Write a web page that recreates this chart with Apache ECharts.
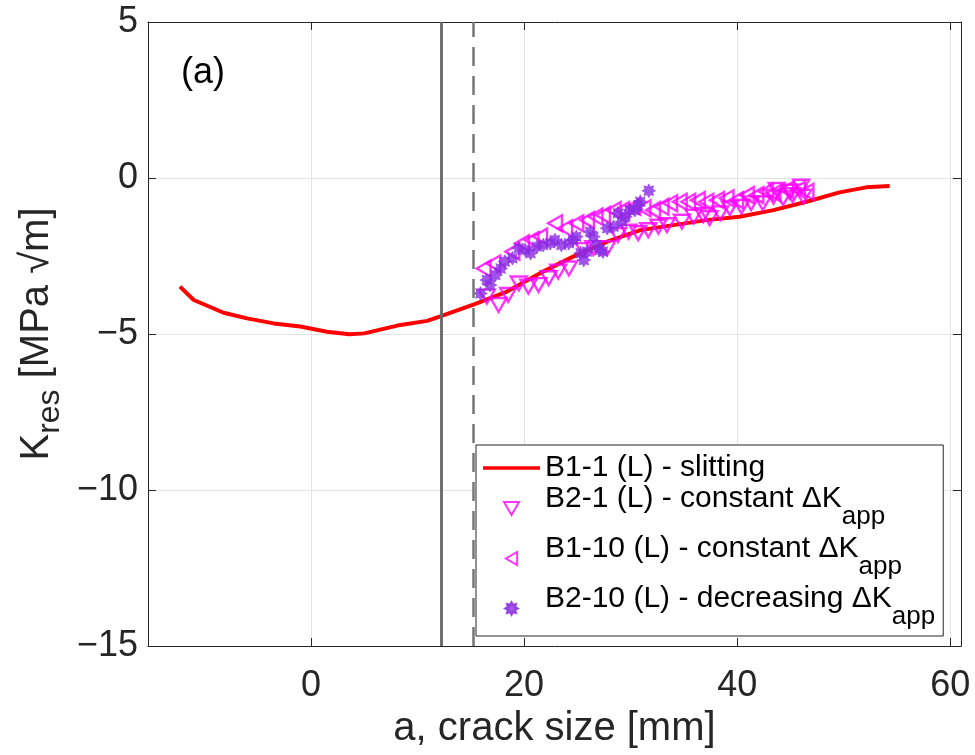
<!DOCTYPE html>
<html><head><meta charset="utf-8">
<script src="https://cdn.jsdelivr.net/npm/echarts@6/dist/echarts.min.js"></script>
<style>html,body{margin:0;padding:0;background:#fff}#c{width:975px;height:755px}</style>
</head><body><div id="c"></div>
<script>
// ---- data ----
const xTickValues = [0, 20, 40, 60];
const yTickValues = [-15, -10, -5, 0, 5];
const seriesNames = [
  'B1-1 (L) - slitting',
  'B2-1 (L) - constant ΔK_app',
  'B1-10 (L) - constant ΔK_app',
  'B2-10 (L) - decreasing ΔK_app'
];
const slittingA = [-12.3, -11.0, -8.2, -6.0, -3.5, -1.0, 1.5, 3.6, 5.0, 8.1, 10.9, 12.2, 15.3, 18.4, 21.5, 24.6, 27.8, 30.9, 34.0, 37.1, 40.2, 43.4, 46.5, 49.6, 52.1, 54.3];
const slittingK = [-3.48, -3.91, -4.32, -4.50, -4.66, -4.76, -4.93, -5.01, -4.98, -4.73, -4.58, -4.43, -4.05, -3.64, -3.05, -2.52, -2.04, -1.67, -1.51, -1.35, -1.24, -1.03, -0.76, -0.46, -0.30, -0.26];
const b21A = [16.5, 17.6, 18.5, 19.5, 20.4, 21.35, 22.3, 23.2, 24.2, 25.6, 26.5, 27.8, 28.8, 29.8, 30.7, 31.65, 32.6, 33.4, 34.8, 35.9, 36.8, 37.4, 38.4, 39.3, 40.4, 41.3, 42.4, 43.4, 43.7, 44.3, 44.9, 45.2, 46.0, 46.2];
const b21K = [-3.80, -4.07, -3.75, -3.38, -3.48, -3.43, -3.21, -3.00, -2.90, -2.31, -2.25, -2.25, -1.83, -1.72, -1.77, -1.67, -1.56, -1.51, -1.40, -1.24, -1.19, -1.29, -1.13, -0.97, -0.92, -0.81, -0.81, -0.60, -0.38, -0.65, -0.44, -0.55, -0.28, -0.60];
const b110A = [16.2, 17.1, 18.9, 19.8, 20.7, 21.5, 22.9, 23.85, 24.9, 25.9, 26.7, 27.4, 28.4, 29.2, 30.25, 31.2, 32.1, 32.9, 33.7, 34.6, 35.4, 36.3, 37.1, 38.1, 39.0, 39.9, 40.9, 41.8, 42.7, 43.4, 44.6, 45.7, 46.5];
const b110K = [-2.90, -2.74, -2.36, -2.09, -1.99, -1.88, -1.45, -1.61, -1.45, -1.35, -1.24, -1.19, -1.03, -1.03, -0.92, -0.97, -1.03, -0.92, -0.81, -0.76, -0.76, -0.71, -0.76, -0.71, -0.65, -0.71, -0.55, -0.55, -0.44, -0.49, -0.38, -0.38, -0.44];
const b210A = [15.9, 16.5, 16.8, 17.3, 17.8, 18.2, 18.9, 19.5, 20.1, 20.6, 21.2, 21.8, 22.45, 22.9, 23.5, 24.2, 24.6, 24.9, 25.3, 25.6, 25.9, 26.2, 26.5, 26.8, 27.1, 27.4, 27.8, 28.4, 28.8, 29.2, 29.5, 29.9, 30.4, 30.7, 30.9, 31.7];
const b210K = [-3.70, -3.27, -3.43, -3.11, -2.90, -2.68, -2.57, -2.25, -2.31, -2.41, -2.20, -2.15, -2.09, -1.99, -2.15, -2.09, -1.99, -1.88, -2.41, -2.63, -2.36, -1.72, -1.88, -2.15, -2.31, -2.36, -1.61, -1.56, -1.13, -1.40, -1.24, -1.03, -1.03, -0.87, -0.76, -0.41];
const refLinesA = [12.2, 15.2];

// ---- helpers ----
const zip = (a, b) => a.map((v, i) => [v, b[i]]);
const FONT = "'Liberation Sans', Arial, Helvetica, sans-serif";
const AX = '#262626';
const minus = v => String(v).replace('-', '\u2212');
const triDown = 'path://M0 0L2 0L1 1.732Z';
const triLeft = 'path://M0 1L1.732 0L1.732 2Z';
const lineIcon = 'path://M0 0H57V3.6H0Z';
function starPath(n, r1, r2) {
  let d = '';
  for (let i = 0; i < 2 * n; i++) {
    const a = Math.PI * i / n - Math.PI / 2;
    const r = i % 2 ? r2 : r1;
    d += (i ? 'L' : 'M') + (r * Math.cos(a)).toFixed(3) + ' ' + (r * Math.sin(a)).toFixed(3);
  }
  return 'path://' + d + 'Z';
}
const star = starPath(8, 1, 0.62);
const legendFmt = name => {
  const p = name.split('_');
  return p[1] ? '{m|' + p[0] + '}{sub|' + p[1] + '}' : '{m1|' + p[0] + '}';
};

const chart = echarts.init(document.getElementById('c'), null, {renderer: 'canvas'});
chart.setOption({
  animation: false,
  backgroundColor: '#fff',
  textStyle: {fontFamily: FONT},
  title: {text: '(a)', left: 181, top: 55, padding: 0, textStyle: {fontFamily: FONT, fontSize: 36, fontWeight: 'normal', color: '#000'}},
  grid: {left: 147, top: 22, width: 814, height: 624},
  xAxis: [{
    type: 'value', min: -15.3, max: 61, position: 'bottom',
    name: 'a, crack size [mm]', nameLocation: 'middle', nameGap: 56,
    nameTextStyle: {fontFamily: FONT, fontSize: 40, color: AX},
    axisLine: {show: true, onZero: false, lineStyle: {color: AX, width: 1}},
    axisTick: {show: true, inside: true, length: 8, customValues: xTickValues, lineStyle: {color: AX}},
    axisLabel: {customValues: xTickValues, formatter: minus, fontFamily: FONT, fontSize: 36, color: AX, margin: 22},
    splitLine: {show: true, lineStyle: {color: '#e3e3e3', width: 1}}
  }, {
    type: 'value', min: -15.3, max: 61, position: 'top',
    axisLine: {show: true, onZero: false, lineStyle: {color: AX, width: 1}},
    axisTick: {show: true, inside: true, length: 8, customValues: xTickValues, lineStyle: {color: AX}},
    axisLabel: {show: false, customValues: xTickValues},
    splitLine: {show: false}
  }],
  yAxis: [{
    type: 'value', min: yTickValues[0], max: yTickValues[yTickValues.length - 1], interval: 5, position: 'left',
    name: '{k|K}{s|res}{k| [MPa √m]}', nameLocation: 'middle', nameGap: 76, nameRotate: 90,
    nameTextStyle: {fontFamily: FONT, color: AX, rich: {
      k: {fontFamily: FONT, fontSize: 40, color: AX, lineHeight: 40, verticalAlign: 'top'},
      s: {fontFamily: FONT, fontSize: 32, color: AX, lineHeight: 32, padding: [26, 0, 0, 0]}
    }},
    axisLine: {show: true, onZero: false, lineStyle: {color: AX, width: 1}},
    axisTick: {show: true, inside: true, length: 8, lineStyle: {color: AX}},
    axisLabel: {formatter: minus, fontFamily: FONT, fontSize: 36, color: AX, margin: 10},
    splitLine: {show: true, lineStyle: {color: '#e3e3e3', width: 1}}
  }, {
    type: 'value', min: yTickValues[0], max: yTickValues[yTickValues.length - 1], interval: 5, position: 'right',
    axisLine: {show: true, onZero: false, lineStyle: {color: AX, width: 1}},
    axisTick: {show: true, inside: true, length: 8, lineStyle: {color: AX}},
    axisLabel: {show: false},
    splitLine: {show: false}
  }],
  legend: {
    orient: 'vertical', left: 476, top: 445,
    itemWidth: 57, itemHeight: 13, itemGap: 1,
    padding: [8, 8, 3, 7],
    borderColor: AX, borderWidth: 1, backgroundColor: '#fff',
    formatter: legendFmt,
    textStyle: {fontFamily: FONT, fontSize: 30, color: '#000', rich: {
      m1: {fontFamily: FONT, fontSize: 30, color: '#000', lineHeight: 34},
      m: {fontFamily: FONT, fontSize: 30, color: '#000', lineHeight: 24, padding: [0, 0, 19, 0]},
      sub: {fontFamily: FONT, fontSize: 26, color: '#000', lineHeight: 26, padding: [17, 0, 0, 0]}
    }},
    data: [
      {name: seriesNames[0], icon: lineIcon},
      {name: seriesNames[1], icon: triDown},
      {name: seriesNames[2], icon: triLeft},
      {name: seriesNames[3], icon: star}
    ]
  },
  series: [{
    name: seriesNames[0], type: 'line', data: zip(slittingA, slittingK),
    symbol: 'none', smooth: false, z: 2,
    lineStyle: {color: '#ff0000', width: 4}, itemStyle: {color: '#ff0000'},
    markLine: {
      silent: true, symbol: 'none', label: {show: false}, z: 6,
      data: [
        {xAxis: refLinesA[0], lineStyle: {color: '#666666', width: 2.8, type: 'solid'}},
        {xAxis: refLinesA[1], lineStyle: {color: '#777777', width: 2.5, type: [19, 10]}}
      ]
    }
  }, {
    name: seriesNames[1], type: 'scatter', data: zip(b21A, b21K), z: 3,
    symbol: triDown, symbolSize: 16, symbolKeepAspect: true,
    itemStyle: {color: 'rgba(255,0,255,0)', borderColor: '#ff00ff', borderWidth: 2.4}
  }, {
    name: seriesNames[2], type: 'scatter', data: zip(b110A, b110K), z: 3,
    symbol: triLeft, symbolSize: 16, symbolKeepAspect: true,
    itemStyle: {color: 'rgba(255,0,255,0)', borderColor: '#ff00ff', borderWidth: 2.4}
  }, {
    name: seriesNames[3], type: 'scatter', data: zip(b210A, b210K), z: 4,
    symbol: star, symbolSize: 14, symbolKeepAspect: true,
    itemStyle: {color: '#8a2be2', borderColor: '#8a2be2', borderWidth: 0.5}
  }]
});
</script></body></html>
